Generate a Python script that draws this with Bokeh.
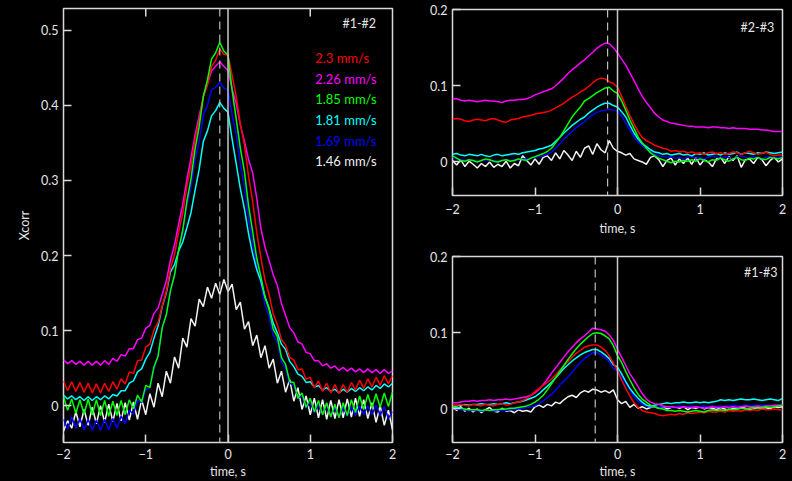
from bokeh.plotting import figure
from bokeh.models import Range1d, FixedTicker, Span, ColumnDataSource
from bokeh.layouts import row, column
from bokeh.embed import file_html
from bokeh.resources import INLINE
from bokeh.core.properties import value

# ---------------- data ----------------
t = [round(-2 + 0.05 * i, 2) for i in range(81)]

speeds = ["2.3 mm/s", "2.26 mm/s", "1.85 mm/s", "1.81 mm/s", "1.69 mm/s", "1.46 mm/s"]
colors = ["#ff0000", "#ff00ff", "#00ff00", "#00ffff", "#0000ff", "#f2f2f2"]
x_ticks = [-2, -1, 0, 1, 2]
x_tick_labels = ["\u22122", "\u22121", "0", "1", "2"]
top_ticks = [-1, 1]
lags = [-0.1, -0.12, -0.27]          # dashed peak-lag markers (#1-#2, #2-#3, #1-#3)
panel_titles = ["#1-#2", "#2-#3", "#1-#3"]

# panel #1-#2
p12_red = [.033,.020,.032,.019,.031,.018,.030,.017,.029,.017,
           .030,.019,.032,.022,.036,.029,.045,.043,.060,.061,
           .078,.082,.101,.111,.133,.152,.183,.201,.231,.256,
           .292,.319,.355,.380,.412,.428,.452,.460,.475,.468,
           .467,.440,.412,.375,.347,.305,.272,.230,.197,.167,
           .148,.122,.108,.088,.081,.064,.061,.048,.049,.035,
           .038,.024,.033,.019,.030,.017,.028,.016,.028,.018,
           .031,.021,.034,.023,.036,.025,.038,.027,.040,.029,
           .040]
p12_magenta = [.061,.056,.060,.055,.059,.054,.059,.054,.059,.054,
               .060,.055,.063,.059,.068,.066,.076,.076,.088,.090,
               .103,.107,.123,.130,.148,.166,.194,.214,.242,.268,
               .301,.330,.361,.386,.411,.428,.446,.452,.458,.452,
               .446,.422,.402,.374,.352,.328,.310,.276,.236,.211,
               .193,.174,.160,.136,.120,.104,.097,.085,.082,.071,
               .069,.060,.060,.053,.056,.050,.053,.047,.051,.046,
               .050,.045,.049,.044,.049,.044,.048,.043,.048,.043,
               .046]
p12_green = [.012,-.006,.009,-.010,.008,-.011,.009,-.012,.008,-.013,
             .007,-.014,.006,-.013,.007,-.012,.008,-.004,.014,.005,
             .027,.024,.052,.066,.104,.121,.153,.174,.208,.234,
             .272,.302,.342,.372,.412,.434,.462,.470,.484,.472,
             .467,.420,.382,.343,.312,.266,.232,.196,.172,.144,
             .128,.102,.092,.064,.055,.032,.031,.010,.017,-.002,
             .010,-.008,.007,-.012,.004,-.015,.002,-.016,.004,-.013,
             .008,-.009,.013,-.005,.015,-.003,.016,-.002,.017,-.001,
             .018]
p12_cyan = [.014,.009,.013,.008,.012,.007,.012,.007,.012,.008,
            .013,.009,.015,.013,.020,.020,.030,.033,.045,.049,
            .062,.071,.090,.106,.132,.150,.178,.188,.206,.218,
            .237,.257,.287,.315,.352,.366,.386,.393,.404,.396,
            .391,.355,.322,.289,.262,.229,.202,.181,.166,.145,
            .130,.110,.097,.082,.075,.059,.052,.042,.039,.031,
            .032,.025,.027,.021,.024,.019,.022,.017,.022,.018,
            .023,.019,.024,.020,.025,.021,.027,.023,.029,.025,
            .030]
p12_blue = [-.018,-.031,-.015,-.030,-.017,-.032,-.018,-.033,-.019,-.033,
            -.018,-.032,-.017,-.030,-.014,-.024,-.006,-.011,.008,.004,
            .022,.024,.049,.068,.103,.121,.153,.174,.207,.231,
            .267,.291,.327,.352,.387,.400,.421,.424,.431,.423,
            .421,.387,.362,.322,.292,.249,.218,.184,.163,.134,
            .119,.094,.085,.058,.050,.030,.027,.010,.013,-.003,
            .005,-.009,.002,-.012,.001,-.014,-.002,-.015,-.002,-.014,
            -.001,-.013,.000,-.012,.000,-.012,.001,-.013,-.001,-.017,
            -.008]
p12_white = [-.034,-.020,-.030,-.008,-.028,-.005,-.026,-.002,-.024,.000,
             -.022,.002,-.021,.003,-.020,.004,-.019,.005,-.018,.008,
             -.012,.016,-.002,.030,.012,.046,.030,.065,.050,.090,
             .078,.116,.106,.142,.132,.158,.143,.163,.148,.168,
             .152,.162,.128,.138,.102,.112,.080,.094,.064,.080,
             .050,.062,.030,.046,.018,.035,.006,.024,-.005,.013,
             -.012,.010,-.016,.008,-.018,.007,-.017,.008,-.016,.009,
             -.015,.010,-.014,.008,-.017,.004,-.022,.000,-.026,-.006,
             -.032]

# panel #2-#3
p23_red = [.056,.057,.056,.054,.053,.055,.056,.055,.054,.056,
           .057,.055,.053,.052,.055,.056,.057,.059,.060,.061,
           .063,.064,.065,.066,.068,.071,.074,.077,.081,.085,
           .088,.092,.095,.099,.104,.108,.110,.109,.105,.103,
           .098,.086,.073,.061,.050,.040,.032,.028,.025,.022,
           .020,.018,.017,.014,.015,.013,.014,.012,.013,.011,
           .012,.010,.012,.013,.011,.012,.010,.011,.013,.012,
           .010,.012,.014,.012,.010,.011,.013,.010,.008,.009,
           .009]
p23_magenta = [.083,.083,.081,.080,.081,.080,.079,.080,.081,.080,
               .080,.079,.078,.080,.081,.081,.082,.082,.083,.085,
               .088,.090,.092,.094,.096,.100,.105,.110,.116,.121,
               .125,.130,.134,.139,.144,.149,.153,.156,.155,.150,
               .143,.135,.127,.117,.107,.096,.086,.078,.071,.064,
               .059,.055,.053,.051,.050,.049,.048,.047,.047,.046,
               .046,.046,.045,.046,.046,.045,.045,.044,.045,.044,
               .044,.044,.043,.043,.043,.042,.042,.041,.040,.040,
               .040]
p23_green = [.008,.005,.002,.001,.003,.002,.000,.002,.004,.003,
             .001,.000,.002,.003,.001,.002,.004,.003,.002,.005,
             .007,.009,.011,.014,.018,.025,.032,.041,.050,.059,
             .066,.072,.080,.083,.087,.091,.094,.097,.098,.093,
             .090,.080,.068,.055,.044,.033,.025,.018,.012,.008,
             .005,.003,.001,-.001,.001,.000,.002,.001,.003,.001,
             .004,.002,.000,.003,.002,.005,.003,.001,.004,.006,
             .003,.002,.005,.004,.006,.004,.003,.006,.005,.004,
             .006]
p23_cyan = [.010,.011,.009,.008,.010,.009,.008,.010,.008,.007,
            .009,.010,.008,.009,.010,.011,.010,.012,.013,.014,
            .015,.017,.018,.020,.022,.027,.032,.038,.043,.048,
            .052,.056,.059,.064,.068,.072,.075,.077,.077,.074,
            .072,.066,.059,.048,.038,.030,.024,.020,.016,.013,
            .012,.010,.011,.009,.010,.011,.009,.010,.008,.011,
            .010,.012,.009,.010,.011,.009,.012,.010,.011,.013,
            .010,.012,.011,.010,.012,.011,.013,.012,.011,.012,
            .013]
p23_blue = [.006,.004,.003,.002,.003,.002,.001,.002,.003,.002,
            .002,.001,.002,.003,.002,.003,.003,.004,.004,.005,
            .006,.007,.008,.010,.013,.018,.024,.030,.035,.040,
            .045,.049,.053,.058,.062,.065,.067,.068,.069,.068,
            .067,.060,.051,.042,.033,.026,.021,.017,.013,.010,
            .008,.007,.006,.007,.005,.006,.004,.006,.007,.005,
            .006,.004,.006,.008,.006,.005,.007,.006,.004,.007,
            .008,.006,.005,.007,.006,.004,.006,.007,.005,.006,
            .007]
p23_white = [.002,-.004,.003,-.006,.001,-.003,-.008,-.002,-.006,.000,
             -.007,-.003,-.006,.001,-.008,-.002,-.005,.008,.002,-.004,
             .004,-.003,.006,.008,.002,.012,.004,.015,.009,.002,
             .014,.006,.018,.021,.010,.024,.016,.012,.028,.018,
             .014,.012,.009,.011,.004,.002,.000,-.003,.006,.008,
             .003,-.006,.002,.005,-.004,.004,-.002,.005,-.003,.006,
             -.004,.003,.000,-.006,.004,.006,-.002,.007,.002,.008,
             -.007,.003,.004,-.002,.006,.003,-.005,.002,.006,.000,
             .004]

# panel #1-#3
p13_red = [.006,.005,.006,.005,.004,.006,.005,.004,.006,.005,
           .004,.006,.007,.005,.006,.008,.009,.011,.014,.018,
           .023,.027,.031,.035,.039,.045,.051,.057,.062,.068,
           .073,.077,.081,.083,.084,.084,.081,.077,.070,.060,
           .050,.038,.027,.017,.008,.002,-.002,-.004,-.005,-.006,
           -.008,-.009,-.008,-.007,-.008,-.006,-.007,-.005,-.006,-.005,
           -.004,-.005,-.003,-.004,-.004,-.003,-.004,-.002,-.003,-.002,
           -.003,-.001,-.002,-.001,-.002,.000,-.001,-.001,.000,-.001,
           -.001]
p13_magenta = [.008,.008,.009,.010,.010,.011,.010,.011,.011,.012,
               .011,.012,.012,.013,.012,.013,.014,.015,.016,.018,
               .021,.026,.032,.039,.047,.054,.061,.068,.075,.081,
               .087,.092,.096,.101,.106,.105,.104,.102,.097,.090,
               .078,.068,.057,.046,.038,.029,.020,.013,.009,.007,
               .006,.004,.003,.003,.002,.002,.003,.002,.002,.003,
               .002,.001,.002,.003,.002,.002,.003,.002,.003,.002,
               .003,.004,.003,.003,.004,.003,.004,.004,.005,.005,
               .005]
p13_green = [.003,.002,.001,.000,-.001,-.001,-.001,-.002,-.001,-.002,
             -.001,-.001,.000,.000,.001,.001,.002,.003,.004,.006,
             .009,.013,.018,.025,.033,.041,.049,.057,.065,.072,
             .079,.085,.090,.095,.099,.100,.099,.096,.092,.083,
             .070,.061,.049,.038,.028,.019,.013,.009,.005,.003,
             .001,.000,-.002,-.002,-.003,-.002,-.003,-.004,-.003,-.002,
             -.003,-.004,-.002,-.001,-.002,-.001,-.002,.000,-.001,.000,
             .001,.000,.001,.002,.001,.002,.003,.002,.003,.004,
             .005]
p13_cyan = [.003,.004,.005,.006,.005,.006,.006,.007,.006,.006,
            .007,.006,.007,.008,.007,.008,.009,.010,.012,.014,
            .016,.020,.025,.030,.035,.041,.047,.053,.058,.063,
            .067,.071,.074,.076,.078,.078,.075,.071,.066,.058,
            .055,.046,.036,.027,.020,.014,.009,.005,.004,.005,
            .006,.007,.008,.007,.008,.008,.009,.008,.008,.009,
            .008,.009,.008,.009,.010,.012,.011,.012,.011,.012,
            .013,.012,.012,.013,.012,.011,.012,.013,.012,.011,
            .014]
p13_blue = [.001,.000,-.001,-.001,-.002,-.002,-.002,-.003,-.002,-.002,
            -.003,-.002,-.002,-.002,-.001,-.001,.000,.001,.002,.003,
            .004,.007,.011,.015,.019,.025,.031,.037,.042,.048,
            .055,.061,.066,.070,.074,.074,.071,.067,.062,.053,
            .050,.042,.034,.025,.016,.010,.006,.004,.003,.003,
            .002,.003,.003,.002,.003,.004,.003,.003,.004,.003,
            .003,.004,.003,.004,.003,.004,.003,.004,.005,.004,
            .004,.005,.004,.005,.004,.005,.005,.004,.005,.005,
            .005]
p13_white = [.002,-.002,.003,-.003,.001,-.004,.000,-.005,-.001,.002,
             -.003,-.004,.001,-.003,-.002,-.005,-.001,-.003,-.002,-.004,
             .003,.005,.002,.006,.004,.009,.007,.012,.016,.018,
             .015,.021,.024,.022,.026,.025,.022,.024,.021,.025,
             .012,.007,.010,.002,.006,.001,.003,.000,.002,.003,
             .001,.003,.000,.002,.003,.001,.003,-.001,.002,.001,
             .003,.000,.002,.001,-.001,.002,.000,-.002,.001,.000,
             .002,.001,-.001,.000,.002,.001,.002,.000,.003,.002,
             .003]

panel12 = [p12_red, p12_magenta, p12_green, p12_cyan, p12_blue, p12_white]
panel23 = [p23_red, p23_magenta, p23_green, p23_cyan, p23_blue, p23_white]
panel13 = [p13_red, p13_magenta, p13_green, p13_cyan, p13_blue, p13_white]

# ---------------- styling ----------------
FONT = "Lato"
FG = "#d9d9d9"
TXT = "#e6e6e6"
BG = "#000000"
TICK_PX = 8
draw_order = [5, 4, 3, 1, 0, 2]   # white, blue, cyan, magenta, red, green


def style_axis(ax):
    ax.axis_line_color = None
    ax.major_tick_line_color = FG
    ax.major_tick_line_width = 1.5
    ax.major_tick_in = TICK_PX
    ax.major_tick_out = 0
    ax.minor_tick_line_color = None
    ax.major_label_text_color = TXT
    ax.major_label_text_font = FONT
    ax.major_label_text_font_size = "12.5px"
    ax.axis_label_text_color = TXT
    ax.axis_label_text_font = FONT
    ax.axis_label_text_font_size = "12.5px"
    ax.axis_label_text_font_style = "normal"


def make_panel(width, height, ylim, yticks, borders, series, lag, title, title_xy,
               ylabel=None, with_top_ticks=False, x_std=(5, 2)):
    p = figure(width=width, height=height, x_range=Range1d(-2, 2),
               y_range=Range1d(*ylim), output_backend="svg", toolbar_location=None,
               min_border_left=borders[0], min_border_right=borders[1],
               min_border_top=borders[2], min_border_bottom=borders[3])
    p.background_fill_color = BG
    p.border_fill_color = BG
    p.outline_line_color = FG
    p.outline_line_width = 1.5
    p.grid.visible = False

    xa = p.xaxis[0]
    xa.ticker = FixedTicker(ticks=x_ticks)
    xa.major_label_overrides = {k: v for k, v in zip(x_ticks, x_tick_labels)}
    xa.axis_label = "time, s"
    style_axis(xa)
    xa.major_label_standoff = x_std[0]
    xa.axis_label_standoff = x_std[1]

    ya = p.yaxis[0]
    ya.ticker = FixedTicker(ticks=yticks)
    ya.major_label_overrides = {0: "0"}
    style_axis(ya)
    ya.major_label_standoff = 5
    if ylabel:
        ya.axis_label = ylabel
        ya.axis_label_standoff = 6

    if with_top_ticks:
        # inward tick marks on the top edge of the frame, TICK_PX long
        frame_h = height - borders[2] - borders[3]
        tick_len = (ylim[1] - ylim[0]) * TICK_PX / frame_h
        n = len(top_ticks)
        p.segment(x0=top_ticks, y0=[ylim[1]] * n, x1=top_ticks,
                  y1=[ylim[1] - tick_len] * n, line_color=FG, line_width=1.5)

    p.add_layout(Span(location=0, dimension="height", line_color="#c8c8c8", line_width=1.5))
    p.add_layout(Span(location=lag, dimension="height", line_color="#bdbdbd",
                      line_width=1.2, line_dash="8 5"))

    for i in draw_order:
        p.line(t, series[i], line_color=colors[i], line_width=1.5)

    src = ColumnDataSource(dict(x=[title_xy[0]], y=[title_xy[1]], s=[title]))
    p.text(x="x", y="y", text="s", source=src, text_color=TXT,
           text_font=value(FONT), text_font_size="12.5px", text_align="right",
           text_baseline="middle")
    return p


left = make_panel(402, 481, (-0.049, 0.529), [0, 0.1, 0.2, 0.3, 0.4, 0.5],
                  (63, 10, 8, 39), panel12, lags[0], panel_titles[0], (1.80, 0.509),
                  ylabel="Xcorr", with_top_ticks=True, x_std=(6, 2))

# legend of speeds
leg_y = [0.463, 0.4355, 0.408, 0.3805, 0.353, 0.3255]
leg_src = ColumnDataSource(dict(x=[1.06] * len(speeds), y=leg_y, s=speeds, c=colors))
left.text(x="x", y="y", text="s", text_color="c", source=leg_src,
          text_font=value(FONT), text_font_size="13px", text_align="left",
          text_baseline="middle")

tr = make_panel(390, 240, (-0.044, 0.2), [0, 0.1, 0.2], (50, 10, 9, 45),
                panel23, lags[1], panel_titles[1], (1.90, 0.177), x_std=(8, 4))
br = make_panel(390, 241, (-0.044, 0.2), [0, 0.1, 0.2], (50, 10, 16, 38),
                panel13, lags[2], panel_titles[2], (1.94, 0.179), x_std=(6, 2))

layout = row(left, column(tr, br))
layout.styles = {"background-color": "#000000"}

html = file_html(layout, INLINE, title="Xcorr")
html = html.replace("</head>",
                    "<style>html, body { background-color: #000000 !important; }</style></head>", 1)
open("out.html", "w").write(html)
